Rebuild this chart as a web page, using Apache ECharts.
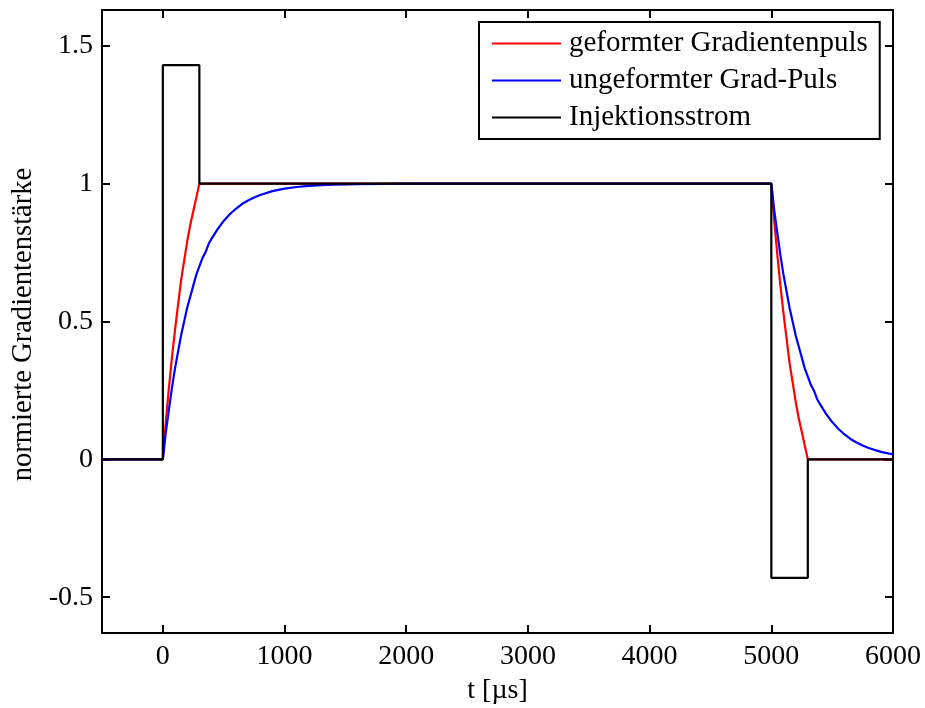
<!DOCTYPE html>
<html>
<head>
<meta charset="utf-8">
<script src="https://cdn.jsdelivr.net/npm/echarts@6/dist/echarts.min.js"></script>
<style>
  html, body { margin: 0; padding: 0; background: #fff; }
  #chart { width: 925px; height: 708px; }
</style>
</head>
<body>
<div id="chart"></div>
<script>
// Zeitachse in µs, Gradientenstärke normiert auf 1
const xTicks = [0, 1000, 2000, 3000, 4000, 5000, 6000];
const yTicks = [-0.5, 0, 0.5, 1, 1.5];

// geformter Gradientenpuls
const redT = [-500, 0, 25, 50, 75, 100, 125, 150, 175, 200, 225, 250, 275, 300,
              5000, 5025, 5050, 5075, 5100, 5125, 5150, 5175, 5200, 5225, 5250, 5275, 5300, 6000];
const redY = [0, 0, 0.14, 0.26, 0.37, 0.47, 0.56, 0.65, 0.72, 0.79, 0.85, 0.90, 0.95, 1,
              1, 0.86, 0.74, 0.63, 0.53, 0.44, 0.35, 0.28, 0.21, 0.15, 0.10, 0.05, 0, 0];

// ungeformter Grad-Puls
const blueT = [-500, 0, 25, 50, 75, 100, 125, 150, 175, 200, 225, 250, 275, 300, 325, 350, 375, 400, 450, 500, 550, 600, 650, 700, 750, 800,
               900, 1000, 1100, 1200, 1300, 1400, 1600, 1800, 2000,
               5000, 5025, 5050, 5075, 5100, 5125, 5150, 5175, 5200, 5225, 5250, 5275, 5300, 5325, 5350, 5375, 5400, 5450, 5500, 5550, 5600,
               5650, 5700, 5750, 5800, 5900, 6000];
const blueY = [0, 0, 0.10, 0.18, 0.26, 0.33, 0.39, 0.45, 0.50, 0.55, 0.59, 0.63, 0.67, 0.70, 0.73, 0.75, 0.78, 0.80, 0.835, 0.865, 0.889, 0.909, 0.926, 0.939, 0.950, 0.959,
               0.973, 0.982, 0.988, 0.992, 0.9945, 0.996, 0.998, 0.999, 1,
               1, 0.90, 0.82, 0.74, 0.67, 0.61, 0.55, 0.50, 0.45, 0.41, 0.37, 0.33, 0.30, 0.27, 0.25, 0.22, 0.20, 0.165, 0.135, 0.111, 0.091,
               0.074, 0.061, 0.050, 0.041, 0.027, 0.018];

// Injektionsstrom
const blackT = [-500, 0, 0, 300, 300, 5000, 5000, 5300, 5300, 6000];
const blackY = [0, 0, 1.43, 1.43, 1, 1, -0.43, -0.43, 0, 0];

const names = ['geformter Gradientenpuls', 'ungeformter Grad-Puls', 'Injektionsstrom'];
const colors = ['#ff0000', '#0000ff', '#000000'];

const zip = (t, y) => t.map((v, i) => [v, y[i]]);
const FONT = 'Liberation Serif';
const FS = 28;

const xBase = {
  type: 'value', min: -500, max: 6000,
  splitLine: { show: false },
  axisLine: { show: true, onZero: false, lineStyle: { color: '#000', width: 2 } },
  axisTick: { show: true, inside: true, length: 8, customValues: xTicks, lineStyle: { color: '#000', width: 2 } }
};
const yBase = {
  type: 'value', min: -0.63, max: 1.63,
  splitLine: { show: false },
  axisLine: { show: true, onZero: false, lineStyle: { color: '#000', width: 2 } },
  axisTick: { show: true, inside: true, length: 8, customValues: yTicks, lineStyle: { color: '#000', width: 2 } }
};

const chart = echarts.init(document.getElementById('chart'), null, { renderer: 'canvas' });
chart.setOption({
  animation: false,
  backgroundColor: '#fff',
  grid: { left: 102, right: 32, top: 10, bottom: 75, containLabel: false, outerBoundsMode: 'none' },
  legend: {
    data: names.map(n => ({ name: n, icon: 'rect' })),
    orient: 'vertical',
    left: 479, top: 22,
    itemWidth: 69, itemHeight: 2, itemGap: 8,
    padding: [7, 12, 7, 13],
    borderColor: '#000', borderWidth: 2,
    backgroundColor: '#fff',
    textStyle: { fontFamily: FONT, fontSize: 29, color: '#000', lineHeight: 27, padding: [0, 0, 0, 3] }
  },
  xAxis: [
    Object.assign({}, xBase, {
      position: 'bottom',
      name: 't [µs]', nameLocation: 'middle', nameGap: 44,
      nameTextStyle: { fontFamily: FONT, fontSize: FS, color: '#000' },
      axisLabel: { show: true, customValues: xTicks, margin: 10, fontFamily: FONT, fontSize: FS, color: '#000',
                   formatter: v => String(v) }
    }),
    Object.assign({}, xBase, { position: 'top', axisLabel: { show: false } })
  ],
  yAxis: [
    Object.assign({}, yBase, {
      position: 'left',
      name: 'normierte Gradientenstärke', nameLocation: 'middle', nameGap: 64,
      nameTextStyle: { fontFamily: FONT, fontSize: 28.6, color: '#000', padding: [0, 6, 0, 0] },
      axisLabel: { show: true, customValues: yTicks, margin: 9, fontFamily: FONT, fontSize: FS, color: '#000',
                   formatter: v => String(v) }
    }),
    Object.assign({}, yBase, { position: 'right', axisLabel: { show: false } })
  ],
  series: [
    { name: names[0], type: 'line', data: zip(redT, redY), showSymbol: false, symbol: 'none',
      lineStyle: { color: colors[0], width: 2.2 }, itemStyle: { color: colors[0] } },
    { name: names[1], type: 'line', data: zip(blueT, blueY), showSymbol: false, symbol: 'none',
      lineStyle: { color: colors[1], width: 2.2 }, itemStyle: { color: colors[1] } },
    { name: names[2], type: 'line', data: zip(blackT, blackY), showSymbol: false, symbol: 'none',
      lineStyle: { color: colors[2], width: 2.2 }, itemStyle: { color: colors[2] } }
  ]
});
</script>
</body>
</html>
